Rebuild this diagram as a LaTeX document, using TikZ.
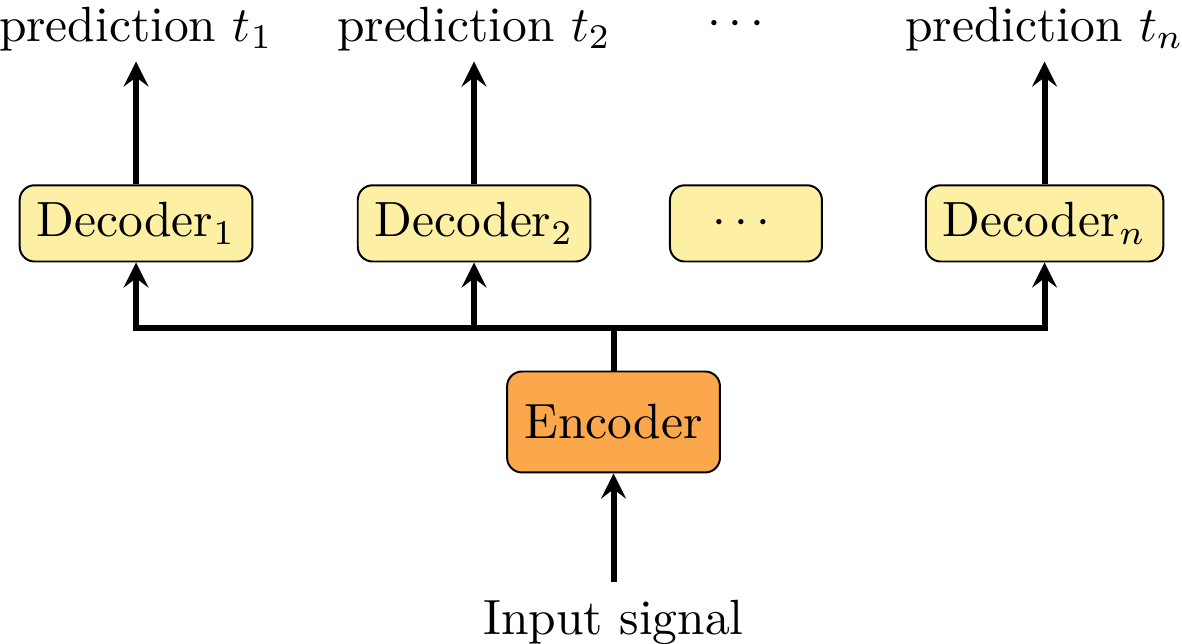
\documentclass[tikz,border=0pt]{standalone}
\usepackage{amsmath}
\usepackage{tikz}
\usetikzlibrary{arrows,shapes,positioning}
\usepackage{xcolor}
\definecolor{decyellow}{RGB}{253,240,164}
\definecolor{encorange}{RGB}{251,167,76}
\tikzstyle{arrow} = [very thick,->,>=stealth]
\tikzstyle{bus} = [very thick]
\tikzstyle{decbox} = [draw, thin, rounded corners=3pt, fill=decyellow, inner xsep=3.4pt, minimum height=15.4pt]
\tikzstyle{encbox} = [draw, thin, rounded corners=3pt, fill=encorange, minimum width=43pt, minimum height=20.4pt]

\begin{document}
\begin{tikzpicture}
\useasboundingbox (-4.356,-1.576) rectangle (4.036,2.996);

% encoder and decoders
\node[encbox] (enc) at (0,0) {Encoder};
\node[decbox] (dec1) at (-3.39,1.41) {Decoder$_1$};
\node[decbox] (dec2) at (-0.99,1.41) {Decoder$_2$};
\node[decbox, minimum width=30.7pt] (decdots) at (0.94,1.41) {$\cdots$};
\node[decbox] (decn) at (3.06,1.41) {Decoder$_n$};

% outputs
\node[inner sep=2pt, above=24.8pt of dec1] (pred1) {prediction $t_1$};
\node[inner sep=2pt, above=24.8pt of dec2] (pred2) {prediction $t_2$};
\node[inner sep=0pt] (preddots) at (0.898,2.819) {$\cdots$};
\node[inner sep=2pt, above=24.8pt of decn] (predn) {prediction $t_n$};

% input
\node[below=22pt of enc] (inp) {Input signal};

% connections
\coordinate (split) at (0,0.67);
\draw[arrow] (inp) -- (enc);
\draw[bus] (enc) -- (split);
\draw[arrow] (split) -| (dec1);
\draw[arrow] (split) -| (dec2);
\draw[arrow] (split) -| (decn);
\draw[arrow] (dec1) -- (pred1);
\draw[arrow] (dec2) -- (pred2);
\draw[arrow] (decn) -- (predn);
\end{tikzpicture}
\end{document}
